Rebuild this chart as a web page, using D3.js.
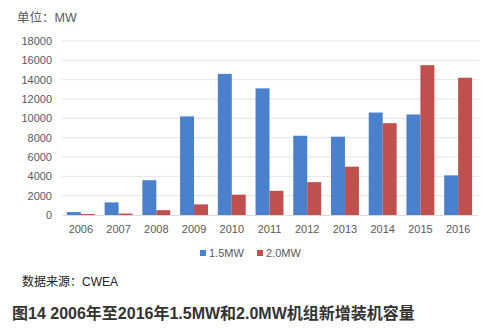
<!DOCTYPE html>
<html>
<head>
<meta charset="utf-8">
<script src="https://cdn.jsdelivr.net/npm/d3@7/dist/d3.min.js"></script>
<style>
  html, body { margin: 0; padding: 0; background: #fff; }
  svg { display: block; font-family: "Microsoft YaHei", "Noto Sans CJK SC", sans-serif; }
</style>
</head>
<body>
<svg id="chart" width="482" height="328"></svg>
<script>
// Yearly new installed capacity (MW) by turbine class
const years = ["2006","2007","2008","2009","2010","2011","2012","2013","2014","2015","2016"];
const mw15 = [300, 1300, 3600, 10200, 14600, 13100, 8200, 8100, 10600, 10400, 4100];
const mw20 = [100, 150, 500, 1100, 2100, 2500, 3400, 5000, 9500, 15500, 14200];
const seriesNames = ["1.5MW", "2.0MW"];
const yTicks = [0, 2000, 4000, 6000, 8000, 10000, 12000, 14000, 16000, 18000];
const colors = ["#4a80cc", "#c0504d"];

const latin = "'Liberation Sans', Arial, sans-serif";
const svg = d3.select("#chart");
const plot = { left: 62, right: 477, top: 41, bottom: 215 };

const x = d3.scaleBand().domain(years).range([plot.left, plot.right]).paddingInner(0.26).paddingOuter(0.13);
const xs = d3.scaleBand().domain(seriesNames).range([0, x.bandwidth()]);
const y = d3.scaleLinear().domain([0, 18000]).range([plot.bottom, plot.top]);

// gridlines
svg.append("g").selectAll("line").data(yTicks.filter(d => d > 0)).join("line")
  .attr("x1", plot.left).attr("x2", plot.right + 2)
  .attr("y1", d => y(d)).attr("y2", d => y(d))
  .attr("stroke", "#e3e3e3").attr("stroke-width", 1);

// y axis labels
const yAxis = d3.axisLeft(y).tickValues(yTicks).tickFormat(d3.format("d")).tickSize(0).tickPadding(10);
svg.append("g").attr("transform", `translate(${plot.left},0)`).call(yAxis)
  .call(g => g.select(".domain").remove())
  .call(g => g.selectAll("text").attr("fill", "#595959").style("font-size", "11px")
    .style("font-family", latin));

// bars
const series = [mw15, mw20];
series.forEach((vals, si) => {
  svg.append("g").selectAll("rect").data(vals).join("rect")
    .attr("x", (d, i) => x(years[i]) + xs(seriesNames[si]))
    .attr("width", xs.bandwidth())
    .attr("y", d => y(d))
    .attr("height", d => y(0) - y(d))
    .attr("fill", colors[si]);
});

// x axis
const xAxis = d3.axisBottom(x).tickSize(0).tickPadding(10);
svg.append("g").attr("transform", `translate(0,${plot.bottom})`).call(xAxis)
  .call(g => g.select(".domain").attr("stroke", "#d9d9d9"))
  .call(g => g.selectAll("text").attr("fill", "#595959").style("font-size", "11px")
    .style("font-family", latin));

// unit label
svg.append("text").attr("x", 17).attr("y", 22).attr("fill", "#595959")
  .style("font-size", "12.5px").style("font-family", "'Liberation Sans', 'Noto Sans CJK SC', sans-serif")
  .text("单位：MW");

// legend
const legendItems = [{ name: seriesNames[0], x: 200 }, { name: seriesNames[1], x: 257 }];
legendItems.forEach((it, i) => {
  svg.append("rect").attr("x", it.x).attr("y", 250).attr("width", 6).attr("height", 6).attr("fill", colors[i]);
  svg.append("text").attr("x", it.x + 9).attr("y", 257).attr("fill", "#595959")
    .style("font-size", "11px").style("font-family", latin).text(it.name);
});

// source note
svg.append("text").attr("x", 22).attr("y", 286).attr("fill", "#222")
  .style("font-size", "12px").style("font-family", "'Liberation Sans', 'Noto Sans CJK SC', sans-serif")
  .text("数据来源：CWEA");

// caption
svg.append("text").attr("x", 12).attr("y", 319).attr("fill", "#333")
  .style("font-size", "16px").style("font-weight", "bold")
  .style("font-family", "'Liberation Sans', 'Noto Sans CJK SC', sans-serif")
  .text("图14 2006年至2016年1.5MW和2.0MW机组新增装机容量");
</script>
</body>
</html>
